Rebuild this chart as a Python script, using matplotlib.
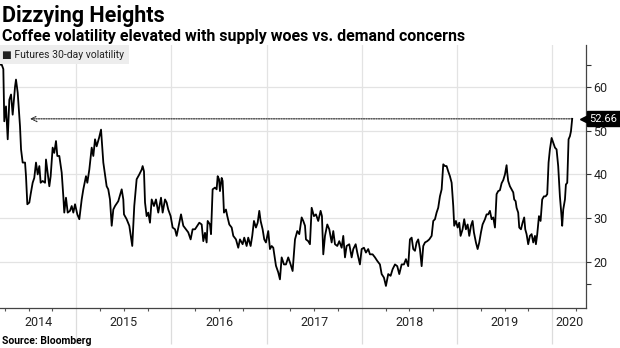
import numpy as np
import matplotlib.pyplot as plt
import matplotlib.transforms as mtransforms

# ----------------------
# DATA (decimal years)
# ----------------------
t = [2014.200, 2014.218, 2014.235, 2014.245, 2014.263, 2014.281, 2014.298, 2014.316, 2014.333, 2014.358,
     2014.368, 2014.386, 2014.410, 2014.421, 2014.438, 2014.463, 2014.473, 2014.487, 2014.508, 2014.522,
     2014.543, 2014.560, 2014.578, 2014.596, 2014.613, 2014.627, 2014.648, 2014.673, 2014.683, 2014.718,
     2014.732, 2014.753, 2014.770, 2014.788, 2014.802, 2014.823, 2014.848, 2014.865, 2014.875, 2014.893,
     2014.911, 2014.935, 2014.953, 2014.970, 2014.988, 2015.012, 2015.033, 2015.058, 2015.075, 2015.103,
     2015.117, 2015.138, 2015.163, 2015.180, 2015.198, 2015.215, 2015.240, 2015.261, 2015.285, 2015.320,
     2015.337, 2015.355, 2015.373, 2015.390, 2015.408, 2015.442, 2015.478, 2015.495, 2015.502, 2015.530,
     2015.558, 2015.589, 2015.610, 2015.635, 2015.663, 2015.688, 2015.698, 2015.712, 2015.723, 2015.740,
     2015.757, 2015.775, 2015.793, 2015.817, 2015.838, 2015.862, 2015.891, 2015.908, 2015.933, 2015.950,
     2015.967, 2015.992, 2016.013, 2016.038, 2016.055, 2016.083, 2016.101, 2016.125, 2016.153, 2016.177,
     2016.202, 2016.223, 2016.248, 2016.272, 2016.293, 2016.318, 2016.335, 2016.353, 2016.370, 2016.381,
     2016.405, 2016.416, 2016.433, 2016.458, 2016.475, 2016.486, 2016.500, 2016.510, 2016.528, 2016.538,
     2016.552, 2016.573, 2016.587, 2016.608, 2016.633, 2016.650, 2016.678, 2016.702, 2016.720, 2016.748,
     2016.765, 2016.790, 2016.807, 2016.832, 2016.849, 2016.867, 2016.888, 2016.906, 2016.923, 2016.937,
     2016.958, 2016.975, 2016.993, 2017.017, 2017.035, 2017.053, 2017.070, 2017.098, 2017.122, 2017.140,
     2017.158, 2017.182, 2017.203, 2017.227, 2017.252, 2017.273, 2017.298, 2017.322, 2017.343, 2017.368,
     2017.385, 2017.403, 2017.413, 2017.437, 2017.455, 2017.473, 2017.497, 2017.518, 2017.542, 2017.567,
     2017.581, 2017.595, 2017.613, 2017.637, 2017.658, 2017.683, 2017.700, 2017.718, 2017.742, 2017.763,
     2017.788, 2017.805, 2017.823, 2017.840, 2017.868, 2017.893, 2017.910, 2017.935, 2017.952, 2017.980,
     2017.998, 2018.022, 2018.043, 2018.067, 2018.085, 2018.113, 2018.138, 2018.162, 2018.190, 2018.208,
     2018.232, 2018.253, 2018.277, 2018.302, 2018.323, 2018.348, 2018.372, 2018.393, 2018.418, 2018.442,
     2018.463, 2018.487, 2018.505, 2018.523, 2018.540, 2018.558, 2018.575, 2018.592, 2018.610, 2018.628,
     2018.645, 2018.663, 2018.687, 2018.708, 2018.733, 2018.750, 2018.768, 2018.785, 2018.802, 2018.820,
     2018.838, 2018.855, 2018.873, 2018.890, 2018.907, 2018.925, 2018.943, 2018.960, 2018.970, 2018.988,
     2019.006, 2019.023, 2019.037, 2019.058, 2019.075, 2019.093, 2019.111, 2019.128, 2019.146, 2019.163,
     2019.177, 2019.198, 2019.216, 2019.233, 2019.251, 2019.268, 2019.293, 2019.310, 2019.327, 2019.345,
     2019.363, 2019.380, 2019.398, 2019.415, 2019.432, 2019.450, 2019.468, 2019.485, 2019.503, 2019.520,
     2019.527, 2019.537, 2019.555, 2019.573, 2019.590, 2019.600, 2019.615, 2019.625, 2019.642, 2019.653,
     2019.671, 2019.688, 2019.705, 2019.716, 2019.730, 2019.747, 2019.765, 2019.783, 2019.800, 2019.818,
     2019.828, 2019.842, 2019.860, 2019.877, 2019.894, 2019.912, 2019.930, 2019.947, 2019.961, 2019.975,
     2019.993, 2020.010, 2020.028, 2020.045, 2020.062, 2020.080, 2020.094, 2020.104, 2020.115, 2020.133,
     2020.143, 2020.157, 2020.171, 2020.185, 2020.196, 2020.203, 2020.209]

vol = [65.0, 65.0, 64.0, 52.1, 55.5, 48.0, 57.0, 58.2, 53.6, 60.0,
       61.6, 58.6, 51.0, 45.7, 42.7, 42.7, 39.6, 33.2, 33.6, 35.5,
       38.1, 39.2, 42.7, 40.0, 41.9, 38.1, 38.5, 38.1, 43.4, 37.3,
       39.6, 46.1, 44.9, 47.6, 44.2, 44.2, 40.4, 35.0, 31.3, 34.7,
       31.3, 31.7, 32.8, 31.3, 33.2, 30.9, 29.8, 34.3, 36.6, 39.6,
       38.1, 41.1, 46.1, 44.2, 48.0, 46.4, 48.3, 50.2, 42.7, 37.3,
       36.6, 34.3, 28.3, 32.0, 32.8, 33.9, 36.6, 34.3, 30.9, 29.8,
       28.3, 23.7, 32.8, 38.9, 40.0, 41.1, 41.9, 40.7, 33.6, 30.5,
       31.3, 29.0, 34.3, 32.8, 34.3, 31.3, 34.7, 31.3, 34.3, 33.6,
       32.0, 30.5, 27.9, 27.5, 26.0, 29.0, 30.9, 28.3, 27.5, 26.8,
       25.2, 27.5, 27.5, 28.3, 29.0, 28.6, 24.8, 26.7, 24.5, 29.4,
       28.6, 26.4, 36.6, 37.0, 36.6, 39.6, 38.9, 36.2, 39.2, 38.5,
       31.3, 32.0, 30.5, 28.6, 27.9, 26.0, 25.2, 23.3, 25.2, 24.1,
       25.6, 23.7, 25.6, 23.7, 26.0, 29.4, 27.9, 29.0, 31.7, 29.4,
       27.5, 25.2, 24.5, 27.1, 23.0, 23.7, 23.3, 19.2, 17.7, 16.1,
       21.1, 19.5, 19.5, 21.1, 19.5, 18.0, 25.2, 27.1, 26.4, 30.2,
       29.4, 28.3, 25.2, 24.8, 24.1, 32.4, 30.5, 30.9, 29.4, 31.7,
       30.5, 21.8, 26.0, 28.6, 27.5, 24.5, 27.1, 24.1, 23.7, 24.8,
       23.3, 26.0, 21.1, 23.7, 24.1, 21.1, 23.0, 24.1, 22.2, 19.5,
       23.0, 23.3, 22.2, 23.0, 21.8, 21.8, 21.1, 20.3, 19.5, 17.3,
       16.5, 14.6, 17.3, 16.9, 18.4, 19.5, 19.1, 17.3, 19.5, 19.5,
       20.7, 19.1, 25.2, 25.6, 23.0, 22.6, 24.5, 25.2, 23.0, 19.1,
       23.7, 24.5, 24.8, 25.2, 26.0, 29.4, 29.8, 31.3, 32.4, 35.0,
       36.6, 42.3, 41.9, 41.9, 40.7, 39.6, 38.1, 32.8, 28.3, 29.4,
       27.9, 29.0, 26.0, 27.5, 29.8, 27.5, 28.6, 26.0, 28.3, 29.4,
       26.8, 24.5, 23.0, 24.5, 26.8, 28.6, 29.8, 30.9, 30.9, 31.7,
       29.8, 30.2, 27.9, 35.5, 36.2, 36.4, 38.0, 38.7, 40.0, 42.1,
       40.4, 38.5, 37.3, 36.6, 35.9, 34.3, 33.9, 32.4, 31.3, 27.9,
       27.5, 29.0, 30.2, 27.5, 26.4, 24.1, 26.0, 26.4, 24.5, 26.0,
       24.1, 26.4, 30.5, 29.4, 34.3, 35.0, 35.0, 35.5, 42.7, 45.7,
       48.3, 47.2, 46.1, 45.7, 41.9, 35.0, 31.3, 28.3, 32.0, 34.3,
       37.7, 38.1, 48.0, 48.7, 49.8, 51.4, 52.66]

years = [2014, 2015, 2016, 2017, 2018, 2019, 2020]
yticks = [20, 30, 40, 50, 60]
last_label = "52.66"

# ----------------------
# PLOT
# ----------------------
plt.rcParams['font.family'] = ['Roboto', 'DejaVu Sans']
fig = plt.figure(figsize=(6.2, 3.48), dpi=100)
ax = fig.add_axes([0.0, 0.114, 0.945, 0.757])

xmin, xmax = 2014.2, 2020.353
ax.set_xlim(xmin, xmax)
ax.set_ylim(9.5, 69.5)

ax.plot(t, vol, color='black', lw=1.3, zorder=3)

# dotted arrow back to when vol was last this high
ax.annotate('', xy=(2014.515, vol[-1]), xytext=(t[-1], vol[-1]),
            arrowprops=dict(arrowstyle='->', linestyle=(0, (1, 1)), color='#333333',
                            lw=0.9, shrinkA=0, shrinkB=0), zorder=2)

# last value tag on the right axis
ax.plot([xmax], [vol[-1]], marker='<', color='black', markersize=8, clip_on=False, zorder=5)
ax.annotate(last_label, xy=(1.0, vol[-1]), xycoords=('axes fraction', 'data'),
            xytext=(2.5, 0), textcoords='offset points', ha='left', va='center',
            color='white', fontsize=8,
            bbox=dict(boxstyle='square,pad=0.22', fc='black', ec='black'), zorder=6)

# grid
for v in yticks:
    ax.axhline(v, color='#e3e3e3', lw=0.9, zorder=0)

# year boundaries, extended below the axis
ax.set_xticks(years[1:])
ax.tick_params(axis='x', which='major', length=26, color='#dcdcdc', width=0.9,
               labelbottom=False, direction='out')
for y in years[1:]:
    ax.axvline(y, color='#e3e3e3', lw=0.9, zorder=0)
quarters = [y + q for y in years for q in (0.25, 0.5, 0.75) if xmin < y + q < xmax]
ax.set_xticks(quarters, minor=True)
ax.tick_params(axis='x', which='minor', length=2.5, color='#555555', width=0.8)

trans = mtransforms.blended_transform_factory(ax.transData, ax.transAxes)
for y in years:
    lo = max(y, xmin)
    hi = min(y + 1, xmax)
    ax.text((lo + hi) / 2, -0.055, str(y), transform=trans, ha='center', va='center',
            fontsize=9, color='#222222')

# right axis
ax.yaxis.tick_right()
ax.set_yticks(yticks)
ax.set_yticklabels([str(v) for v in yticks])
ax.set_yticks([15, 65], minor=True)
ax.tick_params(axis='y', which='both', length=3.5, color='#333333', width=0.8,
               labelsize=9, labelcolor='#222222', pad=2)

for s in ['top', 'left']:
    ax.spines[s].set_visible(False)
ax.spines['bottom'].set_color('#444444')
ax.spines['right'].set_color('#444444')
ax.spines['bottom'].set_linewidth(0.9)
ax.spines['right'].set_linewidth(0.9)

# legend box
ax.text(0.004, 0.963, '\u25A0 Futures 30-day volatility', transform=ax.transAxes,
        ha='left', va='center', fontsize=7.5, color='#222222',
        bbox=dict(boxstyle='square,pad=0.45', fc='#ededed', ec='none'), zorder=4)

# titles
fig.text(0.003, 0.955, 'Dizzying Heights', fontsize=15.5, fontweight='bold',
         ha='left', va='center')
fig.text(0.003, 0.895, 'Coffee volatility elevated with supply woes vs. demand concerns',
         fontsize=11.5, fontweight='bold', ha='left', va='center')
fig.text(0.003, 0.02, 'Source: Bloomberg', fontsize=7.5, fontweight='bold',
         ha='left', va='center')

plt.savefig('out.png', dpi=100)
